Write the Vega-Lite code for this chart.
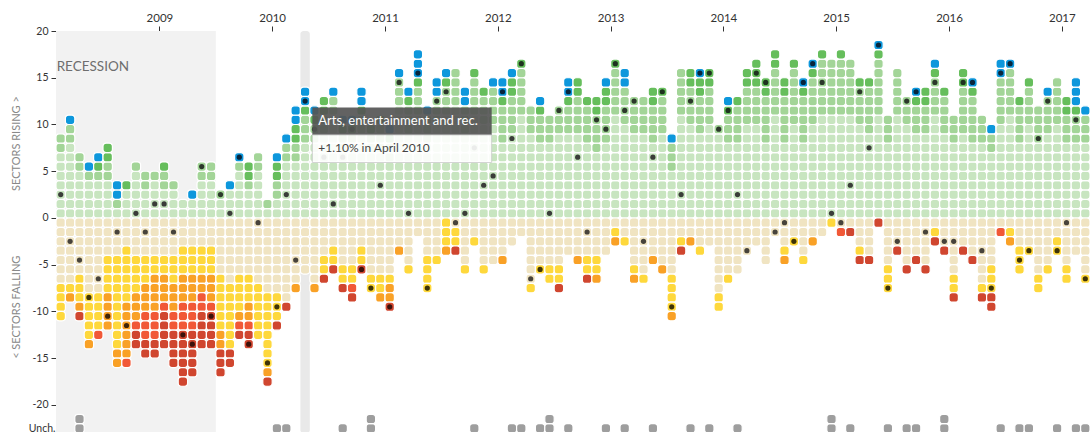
{
"$schema": "https://vega.github.io/schema/vega-lite/v6.json",
"width": 1034, "height": 402,
"autosize": "none",
"padding": {"left": 56, "top": 31, "right": 2, "bottom": 0},
"background": "white",
"config": {"view": {"stroke": null}, "font": "Lato"},
"layer": [
{"data": {"values": [{}]}, "mark": {"type": "rect", "fill": "#f2f2f2"},
 "encoding": {"x": {"datum": -0.5}, "x2": {"datum": 16.5}, "y": {"datum": 20}, "y2": {"datum": -23}}},
{"data": {"values": [{}]}, "mark": {"type": "rect", "fill": "#e9e9e9", "cornerRadius": 3},
 "encoding": {"x": {"datum": 25.5}, "x2": {"datum": 26.5}, "y": {"datum": 20}, "y2": {"datum": -23}}},
{"data": {"values": [{}]}, "mark": {"type": "text", "text": "RECESSION", "align": "left", "baseline": "middle", "fontSize": 13.5, "fill": "#6e6e6e"},
 "encoding": {"x": {"datum": -0.43}, "y": {"datum": 16.1}}},
{"data": {"values": "i,c\n0,a\n0,a\n0,a\n0,a\n0,a\n0,a\n0,a\n0,b\n0,b\n0,e\n0,e\n0,e\n0,e\n0,e\n0,e\n0,e\n0,f\n0,f\n0,f\n0,f\n1,a\n1,a\n1,a\n1,a\n1,a\n1,a\n1,a\n1,a\n1,b\n1,b\n1,d\n1,e\n1,e\n1,e\n1,e\n1,e\n1,e\n1,e\n1,f\n1,g\n2,a\n2,a\n2,a\n2,a\n2,a\n2,b\n2,b\n2,e\n2,e\n2,e\n2,e\n2,e\n2,e\n2,f\n2,f\n2,f\n2,g\n2,i\n3,a\n3,a\n3,a\n3,a\n3,b\n3,d\n3,e\n3,e\n3,e\n3,e\n3,e\n3,e\n3,e\n3,e\n3,f\n3,f\n3,f\n3,f\n3,f\n3,g\n4,a\n4,a\n4,a\n4,a\n4,b\n4,c\n4,d\n4,e\n4,e\n4,e\n4,e\n4,e\n4,e\n4,e\n4,e\n4,f\n4,f\n4,f\n4,f\n4,h\n5,a\n5,a\n5,a\n5,a\n5,b\n5,b\n5,c\n5,c\n5,e\n5,e\n5,e\n5,e\n5,f\n5,f\n5,f\n5,f\n5,g\n5,g\n5,g\n5,g\n6,a\n6,b\n6,d\n6,d\n6,e\n6,e\n6,e\n6,e\n6,f\n6,f\n6,f\n6,f\n6,f\n6,f\n6,f\n6,f\n6,f\n6,f\n6,g\n6,g\n7,a\n7,a\n7,a\n7,c\n7,e\n7,e\n7,e\n7,f\n7,f\n7,f\n7,f\n7,f\n7,f\n7,g\n7,g\n7,g\n7,g\n7,g\n7,g\n7,h\n8,a\n8,a\n8,a\n8,a\n8,a\n8,b\n8,e\n8,e\n8,e\n8,e\n8,f\n8,f\n8,f\n8,f\n8,g\n8,g\n8,g\n8,h\n8,i\n8,i\n9,a\n9,a\n9,a\n9,b\n9,b\n9,e\n9,e\n9,e\n9,e\n9,f\n9,f\n9,f\n9,g\n9,g\n9,g\n9,h\n9,h\n9,h\n9,i\n9,i\n10,a\n10,a\n10,a\n10,a\n10,b\n10,e\n10,e\n10,e\n10,e\n10,f\n10,f\n10,g\n10,g\n10,g\n10,g\n10,h\n10,h\n10,h\n10,i\n10,i\n11,a\n11,a\n11,a\n11,b\n11,b\n11,c\n11,e\n11,e\n11,e\n11,e\n11,f\n11,f\n11,g\n11,g\n11,g\n11,h\n11,i\n11,i\n11,i\n11,i\n12,a\n12,a\n12,a\n12,b\n12,e\n12,e\n12,e\n12,e\n12,f\n12,f\n12,f\n12,g\n12,g\n12,g\n12,h\n12,h\n12,i\n12,i\n12,i\n12,i\n13,a\n13,a\n13,e\n13,e\n13,e\n13,f\n13,f\n13,f\n13,g\n13,g\n13,g\n13,h\n13,h\n13,h\n13,i\n13,i\n13,i\n13,i\n13,i\n13,i\n14,a\n14,a\n14,d\n14,e\n14,e\n14,e\n14,f\n14,f\n14,f\n14,g\n14,g\n14,g\n14,h\n14,h\n14,h\n14,i\n14,i\n14,i\n14,i\n14,i\n15,a\n15,a\n15,a\n15,a\n15,b\n15,b\n15,e\n15,e\n15,e\n15,f\n15,f\n15,f\n15,g\n15,g\n15,h\n15,h\n15,i\n15,i\n15,i\n15,i\n16,a\n16,a\n16,a\n16,a\n16,b\n16,b\n16,e\n16,e\n16,e\n16,f\n16,f\n16,f\n16,g\n16,g\n16,g\n16,h\n16,i\n16,i\n16,i\n16,i\n17,a\n17,a\n17,b\n17,e\n17,e\n17,e\n17,e\n17,e\n17,e\n17,f\n17,f\n17,f\n17,f\n17,f\n17,f\n17,g\n17,g\n17,i\n17,i\n17,i\n18,a\n18,a\n18,a\n18,d\n18,e\n18,e\n18,e\n18,e\n18,e\n18,e\n18,e\n18,f\n18,f\n18,f\n18,f\n18,f\n18,f\n18,f\n18,i\n18,i\n19,a\n19,a\n19,a\n19,a\n19,a\n19,b\n19,d\n19,e\n19,e\n19,e\n19,e\n19,e\n19,e\n19,f\n19,f\n19,f\n19,f\n19,g\n19,h\n19,i\n20,a\n20,a\n20,a\n20,b\n20,c\n20,c\n20,e\n20,e\n20,e\n20,e\n20,e\n20,e\n20,f\n20,f\n20,f\n20,g\n20,g\n20,h\n20,i\n20,i\n21,a\n21,a\n21,a\n21,a\n21,a\n21,b\n21,b\n21,e\n21,e\n21,e\n21,e\n21,e\n21,e\n21,e\n21,f\n21,f\n21,f\n21,f\n21,f\n21,f\n22,a\n22,b\n22,e\n22,e\n22,e\n22,e\n22,e\n22,e\n22,e\n22,e\n22,f\n22,f\n22,f\n22,f\n22,f\n22,f\n22,f\n22,f\n22,g\n22,i\n23,a\n23,a\n23,b\n23,b\n23,c\n23,c\n23,d\n23,e\n23,e\n23,e\n23,e\n23,e\n23,e\n23,e\n23,e\n23,f\n23,f\n23,f\n23,i\n24,a\n24,a\n24,a\n24,a\n24,a\n24,a\n24,b\n24,b\n24,d\n24,e\n24,e\n24,e\n24,e\n24,e\n24,e\n24,e\n24,e\n24,e\n24,i\n25,a\n25,a\n25,a\n25,a\n25,a\n25,a\n25,b\n25,b\n25,c\n25,c\n25,d\n25,d\n25,e\n25,e\n25,e\n25,e\n25,e\n25,e\n25,e\n25,g\n26,a\n26,a\n26,a\n26,a\n26,a\n26,a\n26,a\n26,a\n26,b\n26,b\n26,b\n26,c\n26,d\n26,d\n26,e\n26,e\n26,e\n26,e\n26,e\n26,e\n27,a\n27,a\n27,a\n27,a\n27,a\n27,a\n27,a\n27,a\n27,b\n27,b\n27,c\n27,d\n27,e\n27,e\n27,e\n27,e\n27,e\n27,e\n27,e\n27,g\n28,a\n28,a\n28,a\n28,a\n28,a\n28,a\n28,a\n28,a\n28,a\n28,b\n28,b\n28,c\n28,c\n28,e\n28,e\n28,e\n28,e\n28,f\n28,f\n28,i\n29,a\n29,a\n29,a\n29,a\n29,a\n29,a\n29,a\n29,a\n29,a\n29,a\n29,a\n29,b\n29,b\n29,d\n29,e\n29,e\n29,e\n29,f\n29,f\n29,i\n30,a\n30,a\n30,a\n30,a\n30,a\n30,a\n30,a\n30,b\n30,b\n30,c\n30,d\n30,e\n30,e\n30,e\n30,e\n30,e\n30,f\n30,f\n30,i\n31,a\n31,a\n31,a\n31,a\n31,a\n31,a\n31,a\n31,b\n31,b\n31,c\n31,d\n31,e\n31,e\n31,e\n31,e\n31,e\n31,f\n31,f\n31,h\n31,i\n32,a\n32,a\n32,a\n32,a\n32,a\n32,a\n32,a\n32,a\n32,a\n32,b\n32,b\n32,c\n32,d\n32,d\n32,e\n32,e\n32,e\n32,f\n32,f\n32,i\n33,a\n33,a\n33,a\n33,a\n33,a\n33,a\n33,a\n33,b\n33,b\n33,c\n33,e\n33,e\n33,e\n33,e\n33,e\n33,e\n33,f\n33,f\n34,a\n34,a\n34,a\n34,a\n34,a\n34,a\n34,a\n34,b\n34,b\n34,b\n34,c\n34,e\n34,e\n34,e\n34,e\n34,e\n34,e\n34,f\n34,f\n34,g\n35,a\n35,a\n35,a\n35,a\n35,a\n35,a\n35,b\n35,b\n35,c\n35,d\n35,e\n35,e\n35,e\n35,e\n35,e\n35,e\n35,f\n35,g\n35,g\n35,i\n36,a\n36,a\n36,a\n36,a\n36,a\n36,a\n36,a\n36,a\n36,a\n36,a\n36,a\n36,a\n36,b\n36,b\n36,b\n36,d\n36,e\n36,e\n36,e\n36,g\n37,a\n37,a\n37,a\n37,a\n37,a\n37,a\n37,a\n37,a\n37,a\n37,b\n37,b\n37,b\n37,c\n37,d\n37,e\n37,e\n37,e\n37,e\n37,e\n37,f\n38,a\n38,a\n38,a\n38,a\n38,a\n38,a\n38,a\n38,a\n38,a\n38,a\n38,a\n38,b\n38,b\n38,b\n38,c\n38,d\n38,d\n38,d\n38,e\n38,e\n39,a\n39,a\n39,a\n39,a\n39,a\n39,a\n39,a\n39,a\n39,b\n39,b\n39,b\n39,d\n39,e\n39,e\n39,e\n39,e\n39,f\n39,f\n39,f\n39,f\n40,a\n40,a\n40,a\n40,a\n40,a\n40,a\n40,a\n40,a\n40,a\n40,a\n40,b\n40,b\n40,b\n40,d\n40,d\n40,e\n40,e\n40,e\n40,e\n40,f\n41,a\n41,a\n41,a\n41,a\n41,a\n41,a\n41,a\n41,a\n41,a\n41,a\n41,a\n41,b\n41,b\n41,b\n41,c\n41,d\n41,f\n41,f\n41,f\n41,g\n42,a\n42,a\n42,a\n42,a\n42,a\n42,a\n42,a\n42,a\n42,a\n42,a\n42,a\n42,a\n42,b\n42,b\n42,b\n42,b\n42,e\n42,f\n42,f\n42,i\n43,a\n43,a\n43,a\n43,a\n43,a\n43,a\n43,a\n43,a\n43,a\n43,b\n43,b\n43,b\n43,d\n43,d\n43,e\n43,e\n43,e\n43,e\n43,e\n43,f\n44,a\n44,a\n44,a\n44,a\n44,a\n44,a\n44,a\n44,a\n44,a\n44,a\n44,a\n44,b\n44,b\n44,b\n44,b\n44,c\n44,e\n44,e\n44,f\n45,a\n45,a\n45,a\n45,a\n45,a\n45,a\n45,a\n45,a\n45,a\n45,a\n45,b\n45,b\n45,b\n45,c\n45,e\n45,e\n45,e\n45,e\n45,e\n45,f\n46,a\n46,a\n46,a\n46,a\n46,a\n46,a\n46,a\n46,a\n46,a\n46,a\n46,b\n46,b\n46,b\n46,b\n46,d\n46,e\n46,e\n46,e\n46,e\n46,e\n47,a\n47,a\n47,a\n47,a\n47,a\n47,a\n47,a\n47,a\n47,b\n47,b\n47,b\n47,b\n47,c\n47,d\n47,d\n47,e\n47,e\n47,e\n47,e\n47,g\n48,a\n48,a\n48,a\n48,a\n48,a\n48,a\n48,a\n48,a\n48,a\n48,b\n48,b\n48,b\n48,b\n48,c\n48,c\n48,d\n48,e\n48,e\n48,e\n49,a\n49,a\n49,a\n49,a\n49,a\n49,a\n49,a\n49,a\n49,a\n49,a\n49,a\n49,b\n49,b\n49,b\n49,b\n49,b\n49,c\n49,e\n49,e\n50,a\n50,a\n50,a\n50,a\n50,a\n50,a\n50,a\n50,a\n50,a\n50,b\n50,b\n50,b\n50,e\n50,e\n50,e\n50,e\n50,e\n50,e\n50,e\n50,f\n51,a\n51,a\n51,a\n51,a\n51,a\n51,a\n51,a\n51,a\n51,b\n51,b\n51,b\n51,c\n51,d\n51,e\n51,e\n51,e\n51,e\n51,e\n51,f\n52,a\n52,a\n52,a\n52,a\n52,a\n52,a\n52,a\n52,a\n52,b\n52,b\n52,b\n52,e\n52,e\n52,e\n52,e\n52,e\n52,f\n52,f\n53,a\n53,a\n53,a\n53,a\n53,a\n53,a\n53,a\n53,a\n53,a\n53,b\n53,b\n53,b\n53,e\n53,e\n53,e\n53,e\n53,e\n53,f\n53,f\n53,i\n54,a\n54,a\n54,a\n54,a\n54,a\n54,a\n54,a\n54,a\n54,a\n54,b\n54,b\n54,b\n54,c\n54,d\n54,d\n54,e\n54,e\n54,e\n54,e\n55,a\n55,a\n55,a\n55,a\n55,a\n55,a\n55,a\n55,a\n55,a\n55,b\n55,b\n55,b\n55,b\n55,c\n55,c\n55,e\n55,e\n55,e\n55,e\n55,g\n56,a\n56,a\n56,a\n56,a\n56,a\n56,a\n56,a\n56,a\n56,b\n56,b\n56,b\n56,b\n56,c\n56,e\n56,e\n56,e\n56,e\n56,f\n56,f\n56,i\n57,a\n57,a\n57,a\n57,a\n57,a\n57,a\n57,a\n57,b\n57,b\n57,b\n57,b\n57,c\n57,c\n57,e\n57,e\n57,e\n57,e\n57,f\n57,f\n57,g\n58,a\n58,a\n58,a\n58,a\n58,a\n58,a\n58,a\n58,a\n58,b\n58,b\n58,b\n58,b\n58,c\n58,c\n58,d\n58,e\n58,e\n58,e\n58,e\n59,a\n59,a\n59,a\n59,a\n59,a\n59,a\n59,a\n59,a\n59,a\n59,a\n59,a\n59,b\n59,b\n59,b\n59,b\n59,b\n59,c\n59,e\n59,f\n59,g\n60,a\n60,a\n60,a\n60,a\n60,a\n60,a\n60,a\n60,a\n60,a\n60,a\n60,b\n60,b\n60,b\n60,b\n60,d\n60,d\n60,e\n60,e\n60,f\n61,a\n61,a\n61,a\n61,a\n61,a\n61,a\n61,a\n61,a\n61,a\n61,b\n61,b\n61,b\n61,b\n61,e\n61,e\n61,e\n61,e\n61,e\n61,f\n61,g\n62,a\n62,a\n62,a\n62,a\n62,a\n62,a\n62,a\n62,a\n62,a\n62,b\n62,b\n62,b\n62,b\n62,e\n62,e\n62,e\n62,e\n62,e\n62,e\n62,f\n63,a\n63,a\n63,a\n63,a\n63,a\n63,a\n63,a\n63,a\n63,b\n63,b\n63,b\n63,b\n63,c\n63,c\n63,e\n63,e\n63,e\n63,e\n63,g\n64,a\n64,a\n64,a\n64,a\n64,a\n64,a\n64,a\n64,a\n64,a\n64,b\n64,b\n64,b\n64,b\n64,c\n64,e\n64,e\n64,e\n64,e\n64,e\n64,g\n65,a\n65,a\n65,a\n65,a\n65,a\n65,b\n65,b\n65,b\n65,d\n65,e\n65,e\n65,e\n65,e\n65,e\n65,e\n65,f\n65,f\n65,f\n65,f\n65,g\n66,a\n66,a\n66,a\n66,a\n66,a\n66,a\n66,a\n66,a\n66,a\n66,a\n66,a\n66,b\n66,b\n66,b\n66,b\n66,b\n66,e\n66,e\n66,f\n66,i\n67,a\n67,a\n67,a\n67,a\n67,a\n67,a\n67,a\n67,a\n67,a\n67,a\n67,b\n67,b\n67,b\n67,b\n67,c\n67,c\n67,e\n67,e\n67,g\n68,a\n68,a\n68,a\n68,a\n68,a\n68,a\n68,a\n68,a\n68,a\n68,b\n68,b\n68,b\n68,b\n68,c\n68,c\n68,d\n68,e\n68,e\n68,e\n68,f\n69,a\n69,a\n69,a\n69,a\n69,a\n69,a\n69,a\n69,a\n69,a\n69,a\n69,b\n69,b\n69,b\n69,b\n69,c\n69,c\n69,e\n69,e\n69,e\n70,a\n70,a\n70,a\n70,a\n70,a\n70,a\n70,a\n70,a\n70,a\n70,b\n70,e\n70,e\n70,e\n70,e\n70,e\n70,e\n70,e\n70,e\n70,f\n70,f\n71,a\n71,a\n71,a\n71,a\n71,a\n71,a\n71,a\n71,a\n71,b\n71,b\n71,b\n71,c\n71,d\n71,e\n71,e\n71,e\n71,e\n71,e\n71,e\n71,f\n72,a\n72,a\n72,a\n72,a\n72,a\n72,a\n72,a\n72,a\n72,b\n72,b\n72,b\n72,b\n72,c\n72,e\n72,e\n72,e\n72,e\n72,e\n72,e\n73,a\n73,a\n73,a\n73,a\n73,a\n73,a\n73,a\n73,a\n73,a\n73,a\n73,b\n73,b\n73,b\n73,b\n73,c\n73,c\n73,e\n73,e\n73,e\n73,e\n74,a\n74,a\n74,a\n74,a\n74,a\n74,a\n74,a\n74,a\n74,a\n74,a\n74,b\n74,b\n74,b\n74,b\n74,c\n74,c\n74,c\n74,e\n74,e\n74,e\n75,a\n75,a\n75,a\n75,a\n75,a\n75,a\n75,a\n75,a\n75,b\n75,b\n75,b\n75,b\n75,b\n75,c\n75,c\n75,e\n75,e\n75,e\n75,e\n75,e\n76,a\n76,a\n76,a\n76,a\n76,a\n76,a\n76,a\n76,a\n76,a\n76,a\n76,a\n76,b\n76,b\n76,b\n76,b\n76,b\n76,c\n76,c\n76,e\n76,e\n77,a\n77,a\n77,a\n77,a\n77,a\n77,a\n77,a\n77,a\n77,b\n77,b\n77,b\n77,b\n77,b\n77,c\n77,c\n77,e\n77,e\n77,e\n77,f\n77,g\n78,a\n78,a\n78,a\n78,a\n78,a\n78,a\n78,a\n78,a\n78,a\n78,a\n78,b\n78,b\n78,b\n78,b\n78,b\n78,b\n78,c\n78,e\n78,e\n78,f\n79,a\n79,a\n79,a\n79,a\n79,a\n79,a\n79,a\n79,a\n79,b\n79,b\n79,b\n79,b\n79,b\n79,c\n79,d\n79,e\n79,e\n79,e\n79,e\n79,f\n80,a\n80,a\n80,a\n80,a\n80,a\n80,a\n80,a\n80,a\n80,a\n80,a\n80,b\n80,b\n80,b\n80,b\n80,b\n80,c\n80,d\n80,e\n80,e\n80,g\n81,a\n81,a\n81,a\n81,a\n81,a\n81,a\n81,a\n81,a\n81,a\n81,a\n81,a\n81,b\n81,b\n81,b\n81,b\n81,b\n81,b\n81,c\n81,e\n81,e\n82,a\n82,a\n82,a\n82,a\n82,a\n82,a\n82,a\n82,a\n82,a\n82,a\n82,a\n82,b\n82,b\n82,b\n82,b\n82,b\n82,b\n82,f\n83,a\n83,a\n83,a\n83,a\n83,a\n83,a\n83,a\n83,a\n83,a\n83,a\n83,a\n83,b\n83,b\n83,b\n83,b\n83,b\n83,b\n83,c\n83,e\n83,h\n84,a\n84,a\n84,a\n84,a\n84,a\n84,a\n84,a\n84,a\n84,a\n84,a\n84,a\n84,b\n84,b\n84,b\n84,b\n84,b\n84,b\n84,e\n84,i\n85,a\n85,a\n85,a\n85,a\n85,a\n85,a\n85,a\n85,a\n85,a\n85,a\n85,b\n85,b\n85,b\n85,b\n85,c\n85,e\n85,e\n85,e\n85,f\n85,i\n86,a\n86,a\n86,a\n86,a\n86,a\n86,a\n86,a\n86,a\n86,a\n86,b\n86,b\n86,b\n86,b\n86,b\n86,c\n86,e\n86,e\n86,e\n86,e\n86,i\n87,a\n87,a\n87,a\n87,a\n87,a\n87,a\n87,a\n87,a\n87,a\n87,a\n87,a\n87,b\n87,b\n87,b\n87,b\n87,b\n87,b\n87,c\n87,d\n87,i\n88,a\n88,a\n88,a\n88,a\n88,a\n88,a\n88,a\n88,a\n88,b\n88,b\n88,b\n88,e\n88,e\n88,e\n88,e\n88,e\n88,f\n88,f\n88,f\n89,a\n89,a\n89,a\n89,a\n89,a\n89,a\n89,a\n89,a\n89,a\n89,a\n89,a\n89,b\n89,b\n89,b\n89,b\n89,b\n89,e\n89,e\n89,e\n89,i\n90,a\n90,a\n90,a\n90,a\n90,a\n90,a\n90,a\n90,a\n90,a\n90,a\n90,b\n90,b\n90,b\n90,e\n90,e\n90,e\n90,e\n90,e\n90,i\n91,a\n91,a\n91,a\n91,a\n91,a\n91,a\n91,a\n91,a\n91,a\n91,b\n91,b\n91,b\n91,c\n91,d\n91,e\n91,e\n91,e\n91,e\n91,i\n92,a\n92,a\n92,a\n92,a\n92,a\n92,a\n92,a\n92,a\n92,a\n92,b\n92,b\n92,b\n92,c\n92,c\n92,e\n92,e\n92,e\n92,e\n92,e\n92,i\n93,a\n93,a\n93,a\n93,a\n93,a\n93,a\n93,a\n93,a\n93,a\n93,a\n93,a\n93,b\n93,b\n93,b\n93,b\n93,c\n93,d\n93,e\n93,f\n93,i\n94,a\n94,a\n94,a\n94,a\n94,a\n94,a\n94,a\n94,a\n94,a\n94,b\n94,b\n94,b\n94,b\n94,c\n94,e\n94,e\n94,e\n94,i\n95,a\n95,a\n95,a\n95,a\n95,a\n95,a\n95,a\n95,a\n95,b\n95,b\n95,b\n95,e\n95,e\n95,e\n95,e\n95,e\n95,e\n95,f\n95,f\n95,i\n96,a\n96,a\n96,a\n96,a\n96,a\n96,a\n96,a\n96,a\n96,a\n96,b\n96,b\n96,b\n96,b\n96,b\n96,c\n96,c\n96,e\n96,e\n96,e\n96,i\n97,a\n97,a\n97,a\n97,a\n97,a\n97,a\n97,a\n97,a\n97,b\n97,b\n97,b\n97,b\n97,b\n97,c\n97,d\n97,e\n97,e\n97,e\n97,e\n97,i\n98,a\n98,a\n98,a\n98,a\n98,a\n98,a\n98,a\n98,a\n98,b\n98,b\n98,b\n98,e\n98,e\n98,e\n98,e\n98,e\n98,e\n98,e\n98,f\n98,i\n99,a\n99,a\n99,a\n99,a\n99,a\n99,a\n99,a\n99,b\n99,b\n99,d\n99,e\n99,e\n99,e\n99,e\n99,e\n99,f\n99,f\n99,f\n99,i\n99,i\n100,a\n100,a\n100,a\n100,a\n100,a\n100,a\n100,a\n100,a\n100,a\n100,a\n100,b\n100,b\n100,b\n100,b\n100,b\n100,d\n100,d\n100,e\n100,h\n101,a\n101,a\n101,a\n101,a\n101,a\n101,a\n101,a\n101,a\n101,a\n101,a\n101,a\n101,b\n101,b\n101,b\n101,b\n101,b\n101,d\n101,e\n101,f\n101,g\n102,a\n102,a\n102,a\n102,a\n102,a\n102,a\n102,a\n102,a\n102,b\n102,b\n102,b\n102,b\n102,c\n102,e\n102,e\n102,e\n102,f\n102,f\n102,f\n103,a\n103,a\n103,a\n103,a\n103,a\n103,a\n103,a\n103,a\n103,a\n103,a\n103,b\n103,b\n103,b\n103,b\n103,c\n103,e\n103,e\n103,e\n103,f\n104,a\n104,a\n104,a\n104,a\n104,a\n104,a\n104,a\n104,a\n104,b\n104,b\n104,b\n104,b\n104,e\n104,e\n104,e\n104,e\n104,e\n104,e\n104,f\n104,f\n105,a\n105,a\n105,a\n105,a\n105,a\n105,a\n105,a\n105,a\n105,a\n105,b\n105,b\n105,b\n105,b\n105,d\n105,e\n105,e\n105,e\n105,e\n105,e\n105,f\n106,a\n106,a\n106,a\n106,a\n106,a\n106,a\n106,a\n106,a\n106,a\n106,a\n106,b\n106,b\n106,b\n106,b\n106,b\n106,e\n106,e\n106,f\n106,f\n107,a\n107,a\n107,a\n107,a\n107,a\n107,a\n107,a\n107,a\n107,b\n107,b\n107,b\n107,c\n107,c\n107,e\n107,e\n107,e\n107,e\n107,e\n107,f\n107,f\n108,a\n108,a\n108,a\n108,a\n108,a\n108,a\n108,a\n108,a\n108,b\n108,b\n108,b\n108,c\n108,d\n108,d\n108,d\n108,e\n108,e\n108,e\n108,e\n109,a\n109,a\n109,a\n109,a\n109,a\n109,a\n109,a\n109,a\n109,b\n109,b\n109,b\n109,d\n109,e\n109,e\n109,e\n109,e\n109,e\n109,e\n109,f\n", "format": {"type": "csv", "parse": {"i": "number"}}},
 "transform": [
   {"lookup": "c", "from": {"data": {"values": [{"c": "a", "v": 1}, {"c": "b", "v": 1}, {"c": "c", "v": 1}, {"c": "d", "v": 1}, {"c": "e", "v": -1}, {"c": "f", "v": -1}, {"c": "g", "v": -1}, {"c": "h", "v": -1}, {"c": "i", "v": -1}]}, "key": "c", "fields": ["v"]}},
   {"stack": "v", "groupby": ["i"], "sort": [{"field": "c", "order": "ascending"}], "as": ["y0", "y1"]}
 ],
 "mark": {"type": "bar", "width": 9.4, "stroke": "white", "strokeWidth": 1.2, "cornerRadius": 3.2},
 "encoding": {
  "x": {"field": "i", "type": "quantitative", "scale": {"domain": [-0.5, 109.5], "nice": false, "zero": false, "padding": 0},
    "axis": {"orient": "top", "values": [10.5, 22.5, 34.5, 46.5, 58.5, 70.5, 82.5, 94.5, 106.5],
      "labelExpr": "'' + (2009 + round((datum.value - 10.5) / 12))", "domain": false, "grid": false,
      "tickSize": 5, "tickColor": "#333", "labelColor": "#333", "labelFontSize": 11.5, "labelPadding": 3, "title": null}},
  "y": {"field": "y0", "type": "quantitative", "scale": {"domain": [-23, 20], "nice": false, "zero": false, "padding": 0},
    "axis": {"values": [20, 15, 10, 5, 0, -5, -10, -15, -20, -22.5],
      "labelExpr": "datum.value == -22.5 ? 'Unch.' : '' + datum.value", "domain": false, "grid": false,
      "tickSize": 5, "tickColor": {"condition": {"test": "datum.value == -22.5", "value": "transparent"}, "value": "#333"},
      "labelColor": "#333", "labelFontSize": 10.5,
      "labelPadding": {"condition": {"test": "datum.value == -22.5", "value": -4}, "value": 3},
      "title": "< SECTORS FALLING\u00a0\u00a0\u00a0\u00a0\u00a0\u00a0\u00a0\u00a0\u00a0\u00a0\u00a0\u00a0\u00a0\u00a0\u00a0\u00a0\u00a0\u00a0\u00a0\u00a0\u00a0\u00a0\u00a0SECTORS RISING >",
      "titleFontSize": 11, "titleColor": "#888", "titleFontWeight": "normal", "titleX": -35, "titleY": 196, "titleAlign": "center", "titleBaseline": "bottom"}},
  "y2": {"field": "y1"},
  "color": {"field": "c", "type": "nominal", "legend": null,
     "scale": {"domain": ["a", "b", "c", "d", "e", "f", "g", "h", "i"], "range": ["#c8e5c0", "#a3d598", "#66be5c", "#0d97dc", "#f0e4c2", "#fed83c", "#f9a126", "#f15837", "#d0462f"]}}}},
{"data": {"values": "i,y0,y1\n2,-23,-22\n2,-22,-21\n23,-23,-22\n24,-23,-22\n30,-23,-22\n33,-23,-22\n33,-22,-21\n44,-23,-22\n48,-23,-22\n49,-23,-22\n51,-23,-22\n52,-23,-22\n52,-22,-21\n54,-23,-22\n58,-23,-22\n60,-23,-22\n63,-23,-22\n67,-23,-22\n69,-23,-22\n72,-23,-22\n82,-23,-22\n82,-22,-21\n84,-23,-22\n88,-23,-22\n90,-23,-22\n91,-23,-22\n94,-23,-22\n94,-22,-21\n100,-23,-22\n102,-23,-22\n103,-23,-22\n106,-23,-22\n108,-23,-22\n109,-23,-22\n", "format": {"type": "csv", "parse": {"i": "number", "y0": "number", "y1": "number"}}},
 "mark": {"type": "bar", "width": 9.4, "fill": "#9e9e9e", "stroke": "white", "strokeWidth": 1.2, "cornerRadius": 3.2},
 "encoding": {"x": {"field": "i", "type": "quantitative"}, "y": {"field": "y0", "type": "quantitative"}, "y2": {"field": "y1"}}},
{"data": {"values": "i,y0,c\n0,2.5,a\n1,-2.5,e\n2,-4.5,e\n3,-8.5,f\n4,-6.5,e\n5,-10.5,g\n6,-1.5,e\n7,-11.5,g\n8,0.5,a\n9,-1.5,e\n10,1.5,a\n11,1.5,a\n12,-1.5,e\n13,-12.5,i\n14,-13.5,i\n15,5.5,b\n16,-10.5,i\n17,2.5,b\n18,0.5,a\n19,6.5,d\n20,-13.5,i\n21,-0.5,e\n22,-15.5,f\n23,-9.5,f\n24,2.5,a\n25,-4.5,e\n26,12.5,d\n27,9.5,b\n28,6.5,a\n29,1.5,a\n30,6.5,a\n31,9.5,c\n32,-5.5,i\n33,-7.5,f\n34,3.5,a\n35,-9.5,i\n36,14.5,b\n37,0.5,a\n38,15.5,d\n39,-7.5,f\n40,12.5,b\n41,13.5,b\n42,-0.5,e\n43,0.5,a\n44,7.5,a\n45,3.5,a\n46,4.5,a\n47,13.5,d\n48,8.5,a\n49,16.5,c\n50,-6.5,e\n51,-5.5,f\n52,0.5,a\n53,11.5,b\n54,13.5,d\n55,6.5,a\n56,-1.5,e\n57,10.5,b\n58,9.5,b\n59,16.5,c\n60,11.5,b\n61,12.5,b\n62,-2.5,e\n63,6.5,a\n64,13.5,c\n65,-9.5,f\n66,2.5,a\n67,12.5,b\n68,15.5,d\n69,15.5,c\n70,9.5,b\n71,11.5,c\n72,2.5,a\n73,-3.5,e\n74,15.5,c\n75,14.5,c\n76,-1.5,e\n77,-0.5,e\n78,-2.5,f\n79,14.5,d\n80,16.5,d\n81,14.5,b\n82,0.5,a\n83,-0.5,e\n84,3.5,a\n85,13.5,b\n86,7.5,a\n87,18.5,d\n88,-7.5,f\n89,-2.5,e\n90,12.5,b\n91,13.5,d\n92,-1.5,e\n93,14.5,b\n94,-2.5,e\n95,-2.5,e\n96,14.5,c\n97,14.5,d\n98,-3.5,e\n99,-7.5,f\n100,15.5,d\n101,16.5,d\n102,-4.5,f\n103,-3.5,f\n104,8.5,b\n105,12.5,b\n106,-3.5,f\n107,-0.5,e\n108,10.5,b\n109,-6.5,f\n", "format": {"type": "csv", "parse": {"i": "number", "y0": "number"}}},
 "mark": {"type": "circle", "size": 27, "opacity": 1},
 "encoding": {"x": {"field": "i", "type": "quantitative"}, "y": {"field": "y0", "type": "quantitative"},
   "fill": {"field": "c", "type": "nominal", "legend": null,
   "scale": {"domain": ["a", "b", "c", "d", "e", "f", "g", "h", "i"], "range": ["#3a3d39", "#2c382b", "#1e321f", "#08263d", "#47433b", "#3e3307", "#402608", "#41170d", "#3b120c"]}}}},
{"data": {"values": [{}]}, "mark": {"type": "rect", "fill": "#555555", "opacity": 0.92},
 "encoding": {"x": {"datum": 26.77}, "x2": {"datum": 45.85}, "y": {"datum": 11.81}, "y2": {"datum": 8.88}}},
{"data": {"values": [{}]}, "mark": {"type": "rect", "fill": "white", "opacity": 0.9, "stroke": "#cfcfcf", "strokeWidth": 1},
 "encoding": {"x": {"datum": 26.77}, "x2": {"datum": 45.85}, "y": {"datum": 8.88}, "y2": {"datum": 5.93}}},
{"data": {"values": [{}]}, "mark": {"type": "text", "text": "Arts, entertainment and rec.", "align": "left", "baseline": "middle", "fontSize": 13, "fill": "white"},
 "encoding": {"x": {"datum": 27.4}, "y": {"datum": 10.4}}},
{"data": {"values": [{}]}, "mark": {"type": "text", "text": "+1.10% in April 2010", "align": "left", "baseline": "middle", "fontSize": 12, "fill": "#444"},
 "encoding": {"x": {"datum": 27.4}, "y": {"datum": 7.45}}}
]
}
